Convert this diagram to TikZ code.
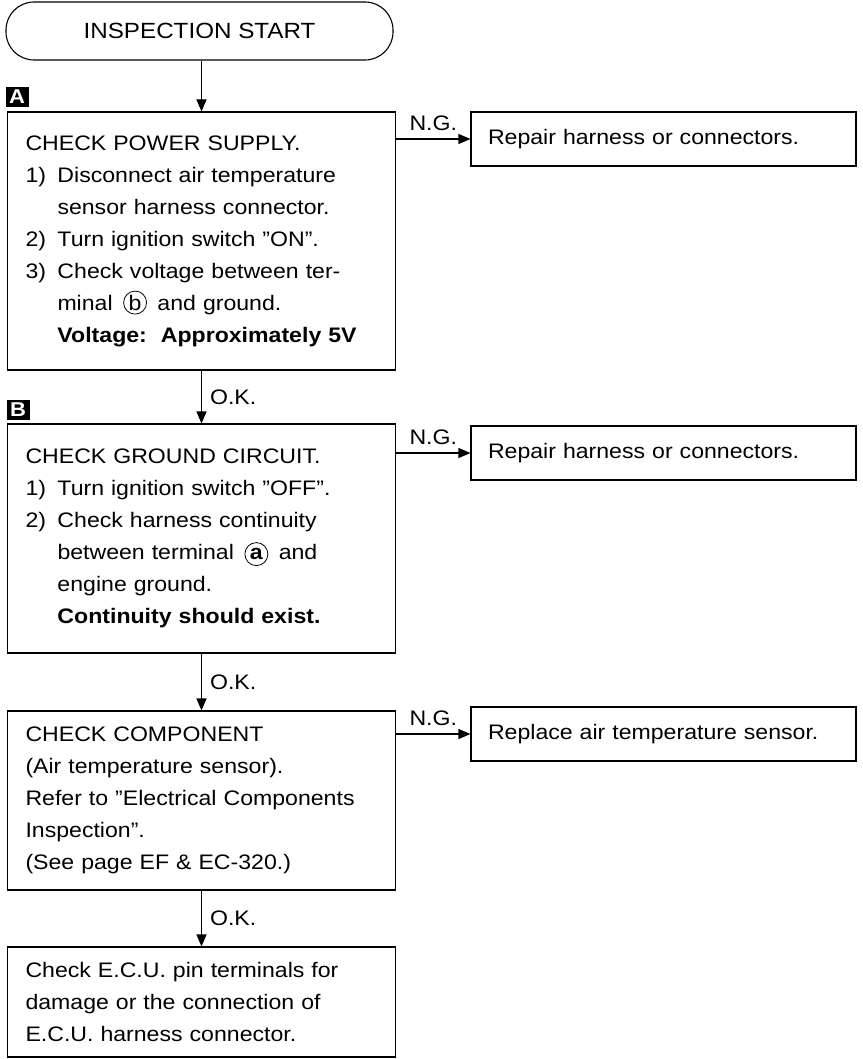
\documentclass[tikz,border=0pt]{standalone}
\usepackage{fontspec}
\setmainfont{Liberation Sans}[FakeStretch=1.1]
\usetikzlibrary{arrows.meta}

% numbered item with hanging indent, and its continuation lines
\newcommand{\itm}[1]{\makebox[32pt][l]{#1}}
\newcommand{\cont}{\hspace*{32pt}}
% terminal letter in a circle
\newcommand{\term}[1]{\,\tikz[baseline=(t.base)]\node[draw, circle, line width=0.8pt,
  inner sep=0pt, minimum size=23pt, font=\fontsize{21}{21}\selectfont] (t) {#1};\,}

\begin{document}
\begin{tikzpicture}[x=1pt, y=-1pt,
    every node/.style={font=\fontsize{21}{32}\selectfont},
    stepbox/.style={draw, line width=1.1pt, align=left, text width=352pt,
                    inner xsep=18pt, inner ysep=0pt},
    fixbox/.style={draw, line width=1.1pt, align=left, text width=351pt,
                   inner xsep=17pt, minimum height=54pt},
    tag/.style={fill=black, text=white, inner sep=0pt, minimum width=23pt,
                minimum height=20pt, font=\bfseries\fontsize{20}{20}\selectfont},
    arr/.style={-{Triangle[length=12pt, width=10pt]}, line width=1.1pt},
    note/.style={inner sep=2pt}
  ]
    \useasboundingbox (0,0) rectangle (862,1059);

    \node[draw, line width=1.1pt, rounded corners=28pt, minimum width=387pt,
          minimum height=58pt, font=\fontsize{22}{22}\selectfont] (start)
          at (199.5,31) {INSPECTION START};

    \node[tag] (tagA) at (17,97)  {A};
    \node[tag] (tagB) at (18,410) {B};

    \node[stepbox, minimum height=258pt] (power) at (201.5,241)
      {CHECK POWER SUPPLY.\\
       \itm{1)}Disconnect air temperature\\
       \cont sensor harness connector.\\
       \itm{2)}Turn ignition switch ''ON''.\\
       \itm{3)}Check voltage between ter-\\
       \cont minal \term{b} and ground.\\
       \cont{\bfseries Voltage:\ \ Approximately 5V}};
    \node[stepbox, minimum height=229pt] (ground) at (201.5,538.5)
      {CHECK GROUND CIRCUIT.\\
       \itm{1)}Turn ignition switch ''OFF''.\\
       \itm{2)}Check harness continuity\\
       \cont between terminal \term{\bfseries a} and\\
       \cont engine ground.\\
       \cont{\bfseries Continuity should exist.}};
    \node[stepbox, minimum height=179pt] (sensor) at (201.5,800.5)
      {CHECK COMPONENT\\
       (Air temperature sensor).\\
       Refer to ''Electrical Components\\
       Inspection''.\\
       (See page EF \& EC-320.)};
    \node[stepbox, minimum height=110pt] (ecu) at (201.5,1002)
      {Check E.C.U. pin terminals for\\
       damage or the connection of\\
       E.C.U. harness connector.};

    \node[fixbox] (fix1) at (663.5,139) {Repair harness or connectors.};
    \node[fixbox] (fix2) at (663.5,453) {Repair harness or connectors.};
    \node[fixbox] (fix3) at (663.5,734) {Replace air temperature sensor.};

    % main line
    \draw[arr] (power.north |- start.south) -- (power.north);
    \draw[arr] (power) -- node[note, right=6pt] {O.K.} (ground);
    \draw[arr] (ground) -- node[note, right=6pt] {O.K.} (sensor);
    \draw[arr] (sensor) -- node[note, right=6pt] {O.K.} (ecu);

    % failure branches
    \draw[arr] (fix1.west -| power.east) -- node[note, above=6pt] {N.G.} (fix1.west);
    \draw[arr] (fix2.west -| ground.east) -- node[note, above=6pt] {N.G.} (fix2.west);
    \draw[arr] (fix3.west -| sensor.east) -- node[note, above=6pt] {N.G.} (fix3.west);
  \end{tikzpicture}
\end{document}
